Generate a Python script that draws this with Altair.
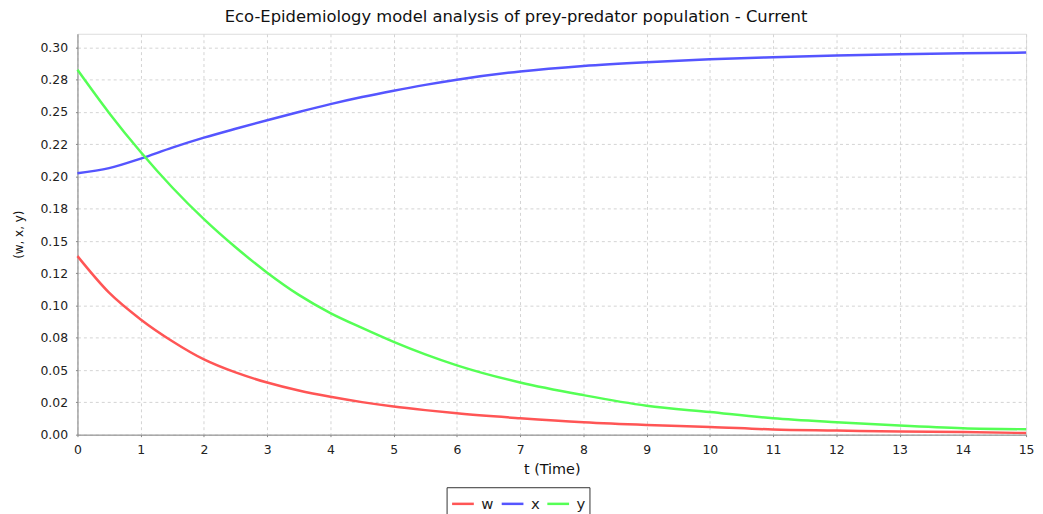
import altair as alt
import pandas as pd

# Time points (t)
t_values = [0, 0.5, 1, 1.5, 2, 2.5, 3, 3.5, 4, 4.5, 5, 5.5, 6,
            7, 8, 9, 10, 11, 12, 13, 14, 15]

# Series values
w_values = [0.1383, 0.1100, 0.0893, 0.0724, 0.0583, 0.0482, 0.0404, 0.0342,
            0.0293, 0.0252, 0.0218, 0.0190, 0.0165, 0.0127, 0.0096, 0.0075,
            0.0060, 0.0040, 0.0032, 0.0024, 0.0021, 0.0012]
x_values = [0.2025, 0.2065, 0.2139, 0.2224, 0.2301, 0.2370, 0.2436, 0.2500,
            0.2561, 0.2616, 0.2665, 0.2710, 0.2750, 0.2814, 0.2857, 0.2886,
            0.2908, 0.2924, 0.2937, 0.2947, 0.2955, 0.2960]
y_values = [0.2827, 0.2493, 0.2190, 0.1915, 0.1670, 0.1452, 0.1255, 0.1083,
            0.0942, 0.0827, 0.0719, 0.0622, 0.0537, 0.0404, 0.0306, 0.0224,
            0.0175, 0.0127, 0.0096, 0.0070, 0.0050, 0.0042]

series_names = ["w", "x", "y"]
series_colors = ["#ff5555", "#5555ff", "#55ff55"]

# Axis ticks and labels
x_ticks = list(range(0, 16))
y_ticks = [0.0, 0.025, 0.05, 0.075, 0.1, 0.125, 0.15, 0.175, 0.2, 0.225,
           0.25, 0.275, 0.3]
y_tick_labels = ["0.00", "0.02", "0.05", "0.08", "0.10", "0.12", "0.15",
                 "0.18", "0.20", "0.22", "0.25", "0.28", "0.30"]

rows = []
for name, vals in zip(series_names, [w_values, x_values, y_values]):
    for t, v in zip(t_values, vals):
        rows.append({"t": t, "value": v, "series": name})
df = pd.DataFrame(rows)

label_array = "[" + ",".join("'" + s + "'" for s in y_tick_labels) + "]"
y_label_expr = label_array + "[round(datum.value / 0.025)]"

FONT = "DejaVu Sans"

chart = alt.Chart(df).mark_line(strokeWidth=2.5, interpolate="monotone").encode(
    x=alt.X("t:Q",
            scale=alt.Scale(domain=[0, 15], nice=False, zero=False),
            axis=alt.Axis(values=x_ticks, title="t (Time)", format="d",
                          labelFont=FONT, labelFontSize=12.5, labelColor="#222",
                          labelPadding=7, tickSize=2, tickColor="#888",
                          domainColor="#888", titleFont=FONT, titleFontSize=14.5,
                          titleFontWeight="normal", titleColor="#111",
                          titlePadding=7, grid=True, gridDash=[3, 3],
                          gridColor="#d4d4d4", labelFlush=False)),
    y=alt.Y("value:Q",
            scale=alt.Scale(domain=[0, 0.3106], nice=False, zero=True),
            axis=alt.Axis(values=y_ticks, title="(w, x, y)",
                          labelExpr=y_label_expr,
                          labelFont=FONT, labelFontSize=12.5, labelColor="#222",
                          labelPadding=8, tickSize=2, tickColor="#888",
                          domainColor="#888", titleFont=FONT, titleFontSize=12,
                          titleFontWeight="normal", titleColor="#111",
                          titlePadding=15, grid=True, gridDash=[3, 3],
                          gridColor="#d4d4d4")),
    color=alt.Color("series:N",
                    scale=alt.Scale(domain=series_names, range=series_colors),
                    legend=alt.Legend(title=None, orient="none", legendX=372,
                                      legendY=457, direction="horizontal",
                                      symbolType="stroke", symbolSize=480,
                                      symbolStrokeWidth=2.5, labelFont=FONT,
                                      labelFontSize=15, labelColor="#222",
                                      labelOffset=6, columnPadding=2,
                                      padding=4, strokeColor="#333",
                                      fillColor="white")),
).properties(
    width=956,
    height=404,
    autosize=alt.AutoSizeParams(type="none"),
    padding={"left": 70, "top": 24, "right": 9, "bottom": 78},
    title=alt.TitleParams(
        "Eco-Epidemiology model analysis of prey-predator population - Current",
        font=FONT, fontSize=16.5, fontWeight="normal", color="#111",
        anchor="middle", dx=-36, dy=14, offset=9, baseline="alphabetic"),
).configure_view(
    stroke="#aaaaaa", strokeWidth=1
).configure(background="white")

chart.save("out.html", embed_options={"renderer": "svg", "actions": False})
